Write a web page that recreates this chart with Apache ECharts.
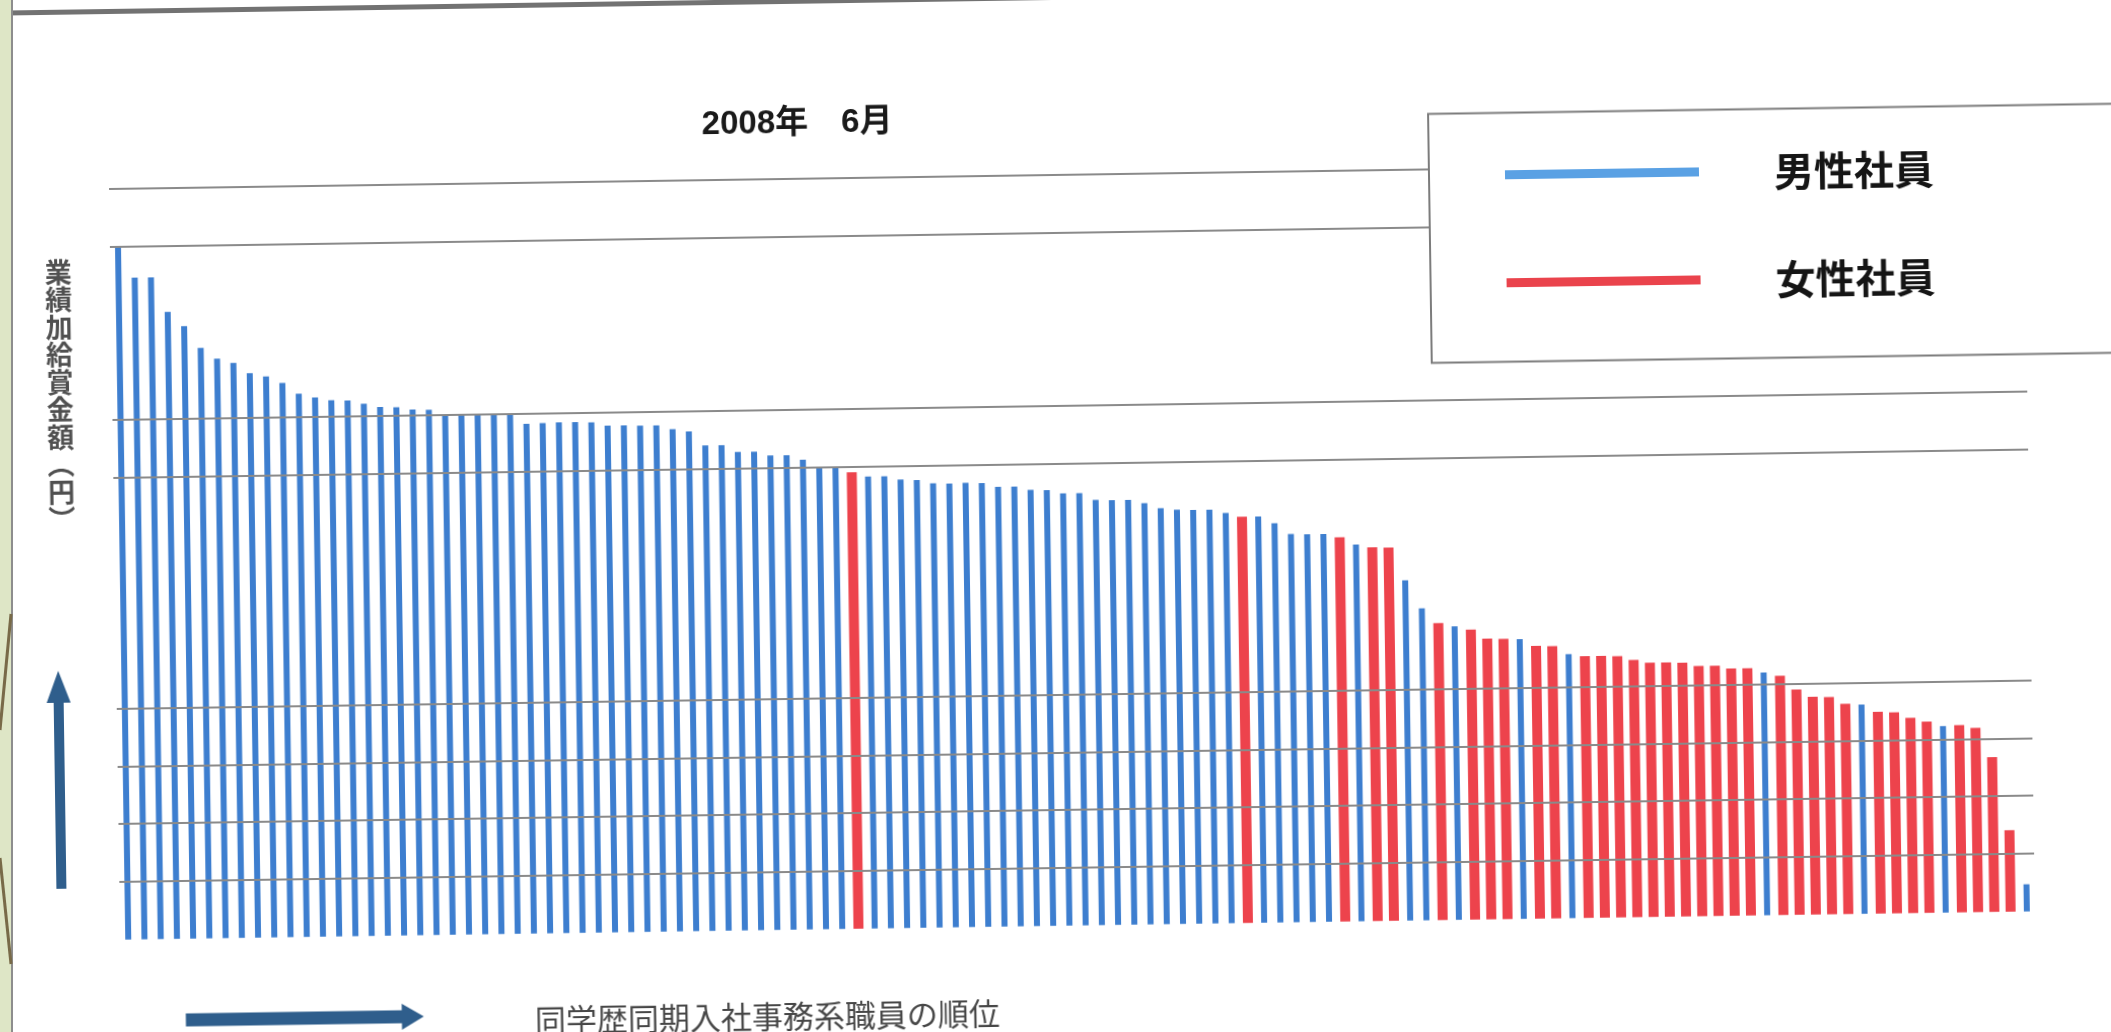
<!DOCTYPE html>
<html lang="ja">
<head>
<meta charset="utf-8">
<title>2008年 6月 業績加給賞金額の順位</title>
<script src="https://cdn.jsdelivr.net/npm/echarts@6/dist/echarts.min.js"></script>
<style>
  html, body { margin: 0; padding: 0; width: 2111px; height: 1032px; overflow: hidden; background: #fff; }
  /* the scanned sheet sits slightly askew, so the whole drawing is turned a little */
  #chart { position: absolute; left: -45px; top: -44px; width: 2201px; height: 1120px;
           transform: rotate(-0.85deg); transform-origin: 50% 50%; }
  #edge { position: absolute; left: 0; top: 0; width: 40px; height: 1032px; pointer-events: none; }
</style>
</head>
<body>
<div id="chart"></div>
<svg id="edge" width="40" height="1032" xmlns="http://www.w3.org/2000/svg">
  <rect x="0" y="0" width="11" height="1032" fill="#dee6c6"/>
  <line x1="12" y1="0" x2="12" y2="1032" stroke="#8d8d8d" stroke-width="2"/>
  <line x1="0" y1="730" x2="11" y2="614" stroke="#786a48" stroke-width="3"/>
  <line x1="0" y1="858" x2="11" y2="964" stroke="#786a48" stroke-width="3"/>
</svg>
<script>
// Performance pay of each clerical employee of the same entry year and schooling,
// sorted from highest to lowest. The axis carries no printed scale, so the amounts
// are given in steps of the horizontal rule lines.
const amounts = [
  12.00, 11.45, 11.45, 10.85, 10.60, 10.22, 10.03, 9.95, 9.77, 9.71,
  9.59, 9.40, 9.33, 9.28, 9.27, 9.21, 9.15, 9.14, 9.10, 9.09,
  9.01, 9.00, 9.00, 9.00, 9.00, 8.82, 8.83, 8.84, 8.84, 8.83,
  8.77, 8.77, 8.76, 8.76, 8.69, 8.65, 8.40, 8.40, 8.28, 8.28,
  8.21, 8.21, 8.13, 8.00, 8.00, 7.90, 7.82, 7.82, 7.76, 7.75,
  7.69, 7.68, 7.69, 7.68, 7.61, 7.61, 7.55, 7.54, 7.48, 7.48,
  7.36, 7.35, 7.35, 7.29, 7.20, 7.17, 7.16, 7.16, 7.10, 7.03,
  7.03, 6.91, 6.72, 6.71, 6.71, 6.65, 6.52, 6.47, 6.46, 5.89,
  5.40, 5.14, 5.08, 5.02, 4.86, 4.85, 4.84, 4.72, 4.71, 4.57,
  4.53, 4.53, 4.52, 4.45, 4.40, 4.40, 4.39, 4.33, 4.33, 4.28,
  4.28, 4.20, 4.14, 3.90, 3.77, 3.76, 3.64, 3.62, 3.49, 3.48,
  3.38, 3.31, 3.23, 3.24, 3.19, 2.68, 1.41, 0.47
];

// M = 男性社員, F = 女性社員, in the same order as amounts
const gender = [
  'M','M','M','M','M','M','M','M','M','M',
  'M','M','M','M','M','M','M','M','M','M',
  'M','M','M','M','M','M','M','M','M','M',
  'M','M','M','M','M','M','M','M','M','M',
  'M','M','M','M','M','F','M','M','M','M',
  'M','M','M','M','M','M','M','M','M','M',
  'M','M','M','M','M','M','M','M','M','F',
  'M','M','M','M','M','F','M','F','F','M',
  'M','F','M','F','F','F','M','F','F','M',
  'F','F','F','F','F','F','F','F','F','F',
  'F','M','F','F','F','F','F','M','F','F',
  'F','F','M','F','F','F','F','M'
];

// rule lines that are drawn across the plot
const ruleLevels = [1, 2, 3, 4, 8, 9, 12, 13];

const seriesNames = ['男性社員', '女性社員'];
const titleText = '2008年\u30006月';
const yAxisTitle = ['業', '績', '加', '給', '賞', '金', '額', '︵', '円', '︶'];
const xAxisTitle = '同学歴同期入社事務系職員の順位';

const ranks = amounts.map((_, i) => String(i + 1));
const maleData = amounts.map((v, i) => gender[i] === 'M' ? v : null);
const femaleData = amounts.map((v, i) => gender[i] === 'F' ? v : null);

const BLUE = '#3d7ecf';
const RED = '#ed434c';
const ARROW = '#2f5e8c';
const CJK = '"Noto Sans CJK JP", "Noto Sans", sans-serif';

const chart = echarts.init(document.getElementById('chart'), null, { renderer: 'canvas' });

chart.setOption({
  backgroundColor: '#ffffff',
  animation: false,
  grid: {
    left: 159, right: 127, top: 218.5, bottom: 150.2,
    containLabel: false, outerBoundsMode: 'none'
  },
  xAxis: [
    { type: 'category', data: ranks, show: false, boundaryGap: true },
    { type: 'category', data: ranks, show: false, boundaryGap: true }
  ],
  yAxis: { type: 'value', min: 0, max: 13, interval: 1, show: false, splitLine: { show: false } },
  legend: {
    z: 20,
    orient: 'vertical',
    left: 1479, top: 163.6,
    padding: [42, 260, 59, 76],
    itemGap: 68,
    itemWidth: 194, itemHeight: 9,
    icon: 'rect',
    selectedMode: false,
    backgroundColor: '#ffffff',
    borderColor: '#7c7c7c', borderWidth: 2,
    textStyle: {
      fontFamily: CJK, fontSize: 40, fontWeight: 'bold', color: '#151515',
      lineHeight: 40, padding: [0, 0, 0, 70]
    },
    data: [
      { name: seriesNames[0], itemStyle: { color: '#5aa1e4' } },
      { name: seriesNames[1], itemStyle: { color: '#ea434c' } }
    ]
  },
  series: [
    {
      name: seriesNames[0], type: 'bar', xAxisIndex: 0, yAxisIndex: 0,
      data: maleData, barWidth: 6,
      itemStyle: { color: BLUE },
      emphasis: { disabled: true },
      markLine: {
        silent: true, symbol: ['none', 'none'],
        label: { show: false },
        lineStyle: { color: '#8a8a8a', width: 2, type: 'solid' },
        emphasis: { disabled: true },
        data: ruleLevels.map(v => ({ yAxis: v }))
      }
    },
    {
      name: seriesNames[1], type: 'bar', xAxisIndex: 1, yAxisIndex: 0,
      data: femaleData, barWidth: 10,
      itemStyle: { color: RED },
      emphasis: { disabled: true }
    }
  ],
  graphic: [
    { // top edge of the sheet
      type: 'line', silent: true,
      shape: { x1: 0, y1: 41.6, x2: 2201, y2: 41.6 },
      style: { stroke: '#727272', lineWidth: 5 }
    },
    {
      type: 'text', silent: true, x: 848, y: 164,
      style: { text: titleText, fill: '#1a1a1a', fontFamily: '"Liberation Sans", ' + CJK,
               fontSize: 33, fontWeight: 'bold', align: 'center', verticalAlign: 'middle' }
    },
    {
      type: 'text', silent: true, x: 107, y: 425,
      style: { text: yAxisTitle.join('\n'), fill: '#505050', fontFamily: CJK,
               fontSize: 27, fontWeight: 'bold', lineHeight: 27.5, align: 'center', verticalAlign: 'middle' }
    },
    { // upward arrow beside the amount title
      type: 'polygon', silent: true,
      shape: { points: [[101, 700], [113, 732], [106, 732], [106, 918], [96, 918], [96, 732], [89, 732]] },
      style: { fill: ARROW }
    },
    { // rightward arrow beside the rank title
      type: 'polygon', silent: true,
      shape: { points: [[223.5, 1044.5], [439.5, 1044.5], [439.5, 1038], [461.5, 1051], [439.5, 1064], [439.5, 1057.5], [223.5, 1057.5]] },
      style: { fill: ARROW }
    },
    {
      type: 'text', silent: true, x: 805, y: 1056,
      style: { text: xAxisTitle, fill: '#474747', fontFamily: CJK,
               fontSize: 31, align: 'center', verticalAlign: 'middle' }
    }
  ]
});
</script>
</body>
</html>
